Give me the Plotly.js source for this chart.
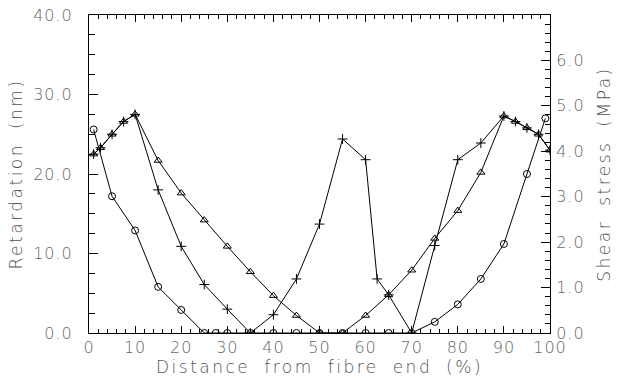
<!DOCTYPE html>
<html><head><meta charset="utf-8">
<script src="https://cdn.plot.ly/plotly-3.0.1.min.js"></script>
<style>
body{margin:0;background:#fff}#c{width:623px;height:381px}
.xtitle,.ytitle,.y2title{letter-spacing:2.5px;word-spacing:6px}
.xtick text,.ytick text,.y2tick text{letter-spacing:1px}
</style>
</head><body><div id="c"></div>
<script>
// Distance from fibre end (%)
const circX = [1, 5, 10, 15, 20, 25, 27.5, 30, 35, 40, 45, 50, 55, 60, 65, 70, 75, 80, 85, 90, 95, 99];
const circY = [25.6, 17.2, 12.9, 5.8, 2.9, 0, 0, 0, 0, 0, 0, 0, 0, 0, 0, 0, 1.4, 3.6, 6.8, 11.2, 20.0, 27.0];

const triX = [1, 2.5, 5, 7.5, 10, 15, 20, 25, 30, 35, 40, 45, 50, 55, 60, 65, 70, 75, 80, 85, 90, 92.5, 95, 97.5, 100];
const triY = [22.5, 23.3, 25.0, 26.6, 27.5, 21.7, 17.6, 14.2, 10.9, 7.7, 4.7, 2.2, 0, 0, 2.2, 4.8, 7.9, 11.9, 15.4, 20.2, 27.3, 26.6, 25.8, 25.0, 23.0];

const plusX = [1, 2.5, 5, 7.5, 10, 15, 20, 25, 30, 35, 40, 45, 50, 55, 60, 62.5, 65, 70, 75, 80, 85, 90, 92.5, 95, 97.5, 100];
const plusY = [22.5, 23.3, 25.0, 26.6, 27.5, 18.0, 10.9, 6.1, 3.0, 0, 2.3, 6.8, 13.7, 24.4, 21.8, 6.8, 4.8, 0, 11.0, 21.8, 23.9, 27.3, 26.6, 25.8, 25.0, 23.0];

const xTicks = [0, 10, 20, 30, 40, 50, 60, 70, 80, 90, 100];
const yTicks = [0, 10, 20, 30, 40];
const y2Ticks = [0, 1, 2, 3, 4, 5, 6];

const lineStyle = {color: '#000', width: 1};
const tickFnt = {family: 'DejaVu Sans, sans-serif', size: 16, color: '#666', weight: 200};
const titleFnt = {family: 'DejaVu Sans, sans-serif', size: 17, color: '#555', weight: 200};

const traces = [
  {x: circX, y: circY, mode: 'lines+markers', line: lineStyle,
   marker: {symbol: 'circle-open', size: 7, color: '#000', line: {width: 1}}},
  {x: triX, y: triY, mode: 'lines+markers', line: lineStyle,
   marker: {symbol: 'triangle-up-open', size: 7, color: '#000', line: {width: 1}}},
  {x: plusX, y: plusY, mode: 'lines+markers', line: lineStyle,
   marker: {symbol: 'cross-thin-open', size: 7, color: '#000', line: {width: 1}}},
  {x: [], y: [], yaxis: 'y2', mode: 'lines', hoverinfo: 'skip'}
];

const layout = {
  width: 623, height: 381,
  margin: {l: 89, r: 73, t: 15, b: 48},
  paper_bgcolor: '#fff', plot_bgcolor: '#fff',
  showlegend: false,
  font: tickFnt,
  xaxis: {
    range: [0, 100], tickvals: xTicks, ticktext: xTicks.map(String),
    showgrid: false, zeroline: false, showline: true, linecolor: '#000', linewidth: 1,
    mirror: 'ticks', ticks: 'inside', ticklen: 7, tickcolor: '#000',
    minor: {dtick: 2, ticks: 'inside', ticklen: 4, tickcolor: '#000'},
    tickfont: tickFnt, ticklabelstandoff: 0,
    title: {text: 'Distance from fibre end (%)', font: titleFnt, standoff: 2}
  },
  yaxis: {
    range: [0, 40], tickvals: yTicks, ticktext: yTicks.map(v => v.toFixed(1)),
    showgrid: false, zeroline: false, showline: true, linecolor: '#000', linewidth: 1,
    ticks: 'inside', ticklen: 9, tickcolor: '#000',
    minor: {dtick: 2.5, ticks: 'inside', ticklen: 6, tickcolor: '#000'},
    tickfont: tickFnt, ticklabelstandoff: 12,
    title: {text: 'Retardation (nm)', font: titleFnt, standoff: 6}
  },
  yaxis2: {
    overlaying: 'y', side: 'right', range: [0, 7],
    tickvals: y2Ticks, ticktext: y2Ticks.map(v => v.toFixed(1)),
    showgrid: false, zeroline: false, showline: true, linecolor: '#000', linewidth: 1,
    ticks: 'inside', ticklen: 9, tickcolor: '#000',
    minor: {dtick: 0.2, ticks: 'inside', ticklen: 5, tickcolor: '#000'},
    tickfont: tickFnt, ticklabelstandoff: 2,
    title: {text: 'Shear stress (MPa)', font: titleFnt, standoff: 14}
  }
};

Plotly.newPlot('c', traces, layout, {staticPlot: true, displayModeBar: false});
</script>
</body></html>
